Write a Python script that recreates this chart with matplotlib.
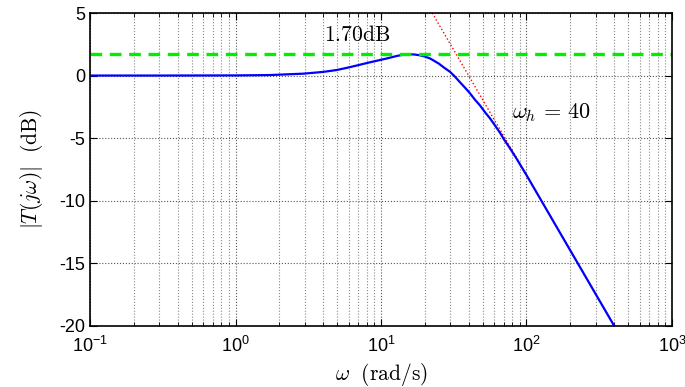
import numpy as np
import matplotlib.pyplot as plt

plt.rcParams['font.family'] = ['Liberation Sans', 'DejaVu Sans']
plt.rcParams['mathtext.fontset'] = 'custom'
plt.rcParams['mathtext.rm'] = 'Liberation Sans'
plt.rcParams['mathtext.it'] = 'Liberation Sans:italic'

# magnitude curve
w = [0.1, 0.3, 1, 1.73, 2.93, 4, 4.95, 5.8, 6.8, 8, 9.33, 11, 12.9, 14, 15.8, 17,
     18.5, 20, 21.7, 23, 25, 27, 29.8, 32, 35, 38, 40.9, 44, 48, 52, 56.1, 60, 66,
     70, 77.1, 85, 100, 124, 161, 250, 400]
mag_db = [0, 0, 0.01, 0.04, 0.15, 0.29, 0.44, 0.61, 0.80, 1.0, 1.18, 1.37, 1.57,
          1.65, 1.70, 1.68, 1.62, 1.52, 1.37, 1.2, 0.95, 0.65, 0.3, -0.05, -0.55,
          -1.0, -1.42, -1.9, -2.4, -2.95, -3.42, -3.9, -4.6, -5.1, -5.83, -6.6,
          -7.96, -9.83, -12.1, -15.92, -20]

# high frequency asymptote (-20 dB/dec through w_h = 40)
asym_w = [20, 40, 1000]
asym_db = [6.02, 0, -27.96]

peak_db = 1.70
w_h = 40

fig = plt.figure(figsize=(6.85, 3.87), dpi=100)
ax = fig.add_axes([0.1314, 0.1584, 0.8496, 0.808])

ax.semilogx(asym_w, asym_db, color='red', ls=':', lw=1.0)
ax.semilogx(w, mag_db, color='blue', lw=1.6)
ax.axhline(peak_db, color='#00ee00', ls=(0, (3.5, 2.3)), lw=2.4)

ax.set_xlim(0.1, 1000)
ax.set_ylim(-20, 5)
ax.set_yticks([-20, -15, -10, -5, 0, 5])
ax.set_yticklabels(['-20', '-15', '-10', '-5', '0', '5'])

ax.grid(True, which='major', ls=':', color='#555555', lw=0.8)
ax.grid(True, which='minor', axis='x', ls=':', color='#888888', lw=0.8)
ax.tick_params(which='both', direction='in', top=True, right=True, labelsize=13)
ax.tick_params(which='major', length=5)
ax.tick_params(which='minor', length=3)
ax.tick_params(axis='x', which='major', pad=7)
for s in ax.spines.values():
    s.set_linewidth(1.2)

ax.text(6.9, 2.4, r'$1.70\mathrm{dB}$', fontsize=15.5, ha='center', va='bottom',
        math_fontfamily='cm')
ax.text(79, -3.0, r'$\omega_h\, =\, %d$' % w_h, fontsize=16, ha='left', va='center',
        math_fontfamily='cm')

ax.set_xlabel(r'$\omega\ \ \mathrm{(rad/s)}$', fontsize=15.5, math_fontfamily='cm',
              labelpad=4)
ax.set_ylabel(r'$|T(j\omega)|\ \ \mathrm{(dB)}$', fontsize=15.5, math_fontfamily='cm',
              labelpad=10)

fig.savefig('out.png', dpi=100)
